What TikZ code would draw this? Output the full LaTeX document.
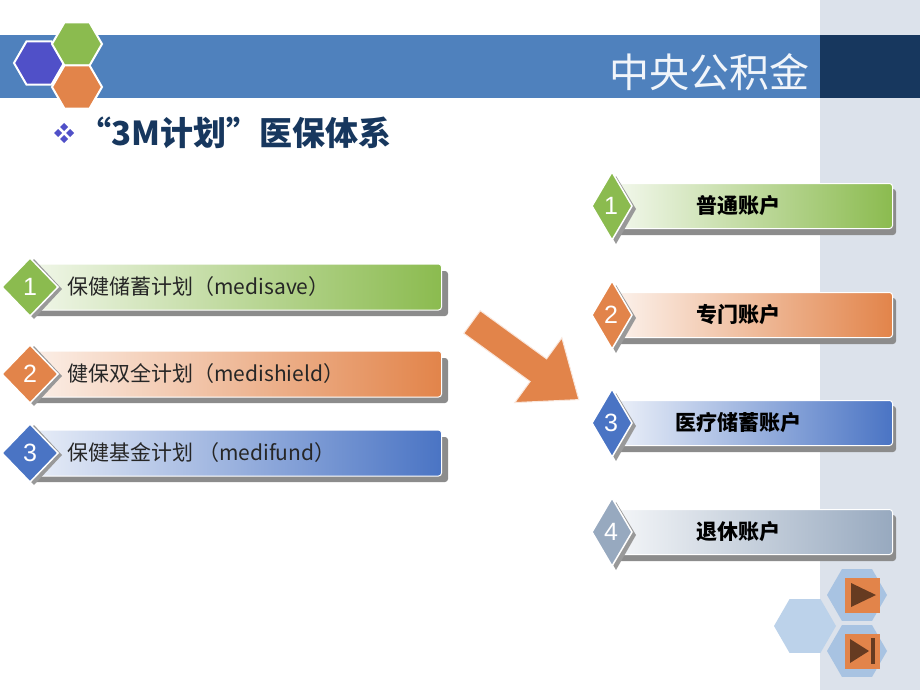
\documentclass[tikz,border=0pt]{standalone}
\usepackage{fontspec}
\setmainfont{Noto Sans CJK SC}
\newfontfamily\numfont{Liberation Sans}
\definecolor{band}{HTML}{4F81BD}
\definecolor{navy}{HTML}{17375E}
\definecolor{panel}{HTML}{DCE2EB}
\definecolor{gr}{HTML}{8BBB4F}
\definecolor{orr}{HTML}{E2844A}
\definecolor{bl}{HTML}{4A74C4}
\definecolor{pu}{HTML}{5050C8}
\definecolor{gy}{HTML}{97A9BF}
\definecolor{hexl}{HTML}{BCD2EA}
\definecolor{hexm}{HTML}{A8C3E2}
\tikzset{
 bar/.style={draw=white,line width=1pt,rounded corners=3pt,inner sep=0pt},
 shad/.style={fill=black!45,rounded corners=3pt},
 dia/.style={draw=white,line width=1.5pt},
 num/.style={text=white,font=\numfont\fontsize{25}{25}\selectfont},
 lab/.style={font=\fontsize{21}{22}\selectfont,text=black!85,anchor=west},
 rlab/.style={font=\fontsize{21}{22}\selectfont\bfseries,text=black},
 hexw/.style={draw=white,line width=2pt},
}
\newcommand{\hexa}[4]{\path[#4] (#1+#3,#2) -- (#1+#3/2,#2-0.866*#3) -- (#1-#3/2,#2-0.866*#3) -- (#1-#3,#2) -- (#1-#3/2,#2+0.866*#3) -- (#1+#3/2,#2+0.866*#3) -- cycle;}
\begin{document}
\begin{tikzpicture}[x=1pt,y=-1pt]
\useasboundingbox (0,0) rectangle (920,690);
\fill[white] (0,0) rectangle (920,690);
\fill[panel] (820,0) rectangle (920,690);
\fill[band] (0,35) rectangle (820,98);
\fill[navy] (820,35) rectangle (920,98);
\node[text=white!92!band,font=\fontsize{40}{40}\selectfont] (hdr) at (709,72) {中央公积金};
% logo hexagons
\hexa{39}{63}{25}{fill=pu,hexw}
\hexa{77}{44}{25}{fill=gr,hexw}
\hexa{77}{87}{25}{fill=orr,hexw}
% title
\node[anchor=west,text=navy,font=\fontsize{33}{33}\selectfont\bfseries,inner sep=0pt] (title) at (78,133) {“3M计划”医保体系};
\foreach \dx/\dy in {0/-6,-6/0,6/0,0/6}
 \fill[pu] (64+\dx,133+\dy) ++(0,-4) -- ++(4,4) -- ++(-4,4) -- ++(-4,-4) -- cycle;
% left bars
\foreach \y/\c/\n/\t [count=\i] in {287/gr/1/保健储蓄计划（medisave）,374/orr/2/健保双全计划（medishield）,453/bl/3/保健基金计划 （medifund）}{
 \fill[shad] (32,\y-16) rectangle (448,\y+29);
 \node[bar,minimum width=414pt,minimum height=46pt,left color=\c!12,right color=\c,anchor=west] (L\i) at (27,\y) {};
 \fill[black!40] (34,\y-28) -- (62,\y+2) -- (34,\y+32) -- (6,\y+2) -- cycle;
 \path[dia,fill=\c] (30,\y-29) -- (58,\y) -- (30,\y+29) -- (2,\y) -- cycle;
 \node[num] (LN\i) at (30,\y) {\n};
 \node[lab] (LT\i) at (64,\y) {\t};
}
% right bars
\foreach \y/\c/\n/\t [count=\i] in {206/gr/1/普通账户,315/orr/2/专门账户,423/bl/3/医疗储蓄账户,532/gy/4/退休账户}{
 \fill[shad] (618,\y-17) rectangle (896,\y+29);
 \node[bar,minimum width=273pt,minimum height=45pt,left color=\c!12,right color=\c,anchor=west] (R\i) at (619,\y) {};
 \fill[black!40] (616,\y-30) -- (636,\y+3) -- (616,\y+38) -- (596,\y+3) -- cycle;
 \path[dia,fill=\c] (612,\y-34) -- (632,\y) -- (612,\y+34) -- (592,\y) -- cycle;
 \node[num] (RN\i) at (611,\y) {\n};
 \node[rlab] (RT\i) at (738,\y) {\t};
}
% big arrow
\begin{scope}[shift={(472,322)},rotate=-36]
 \path[fill=orr,draw=white!80!orr,line width=1pt] (0,-14) -- (82,-14) -- (82,-40) -- (132,0) -- (82,40) -- (82,14) -- (0,14) -- cycle;
\end{scope}
% nav
\hexa{805}{626}{31}{fill=hexl}
\hexa{857}{595}{30}{fill=hexm}
\hexa{857}{651}{30}{fill=hexm}
\node[fill=orr,minimum size=35pt,inner sep=0pt] (b1) at (862,595) {};
\fill[black!55!orr] (851,583) -- (876,595) -- (851,607) -- cycle;
\node[fill=orr,minimum size=35pt,inner sep=0pt] (b2) at (862,651) {};
\fill[black!55!orr] (850,639) -- (869,651) -- (850,663) -- cycle;
\fill[black!55!orr] (871,638) rectangle (875,664);
\end{tikzpicture}
\end{document}
